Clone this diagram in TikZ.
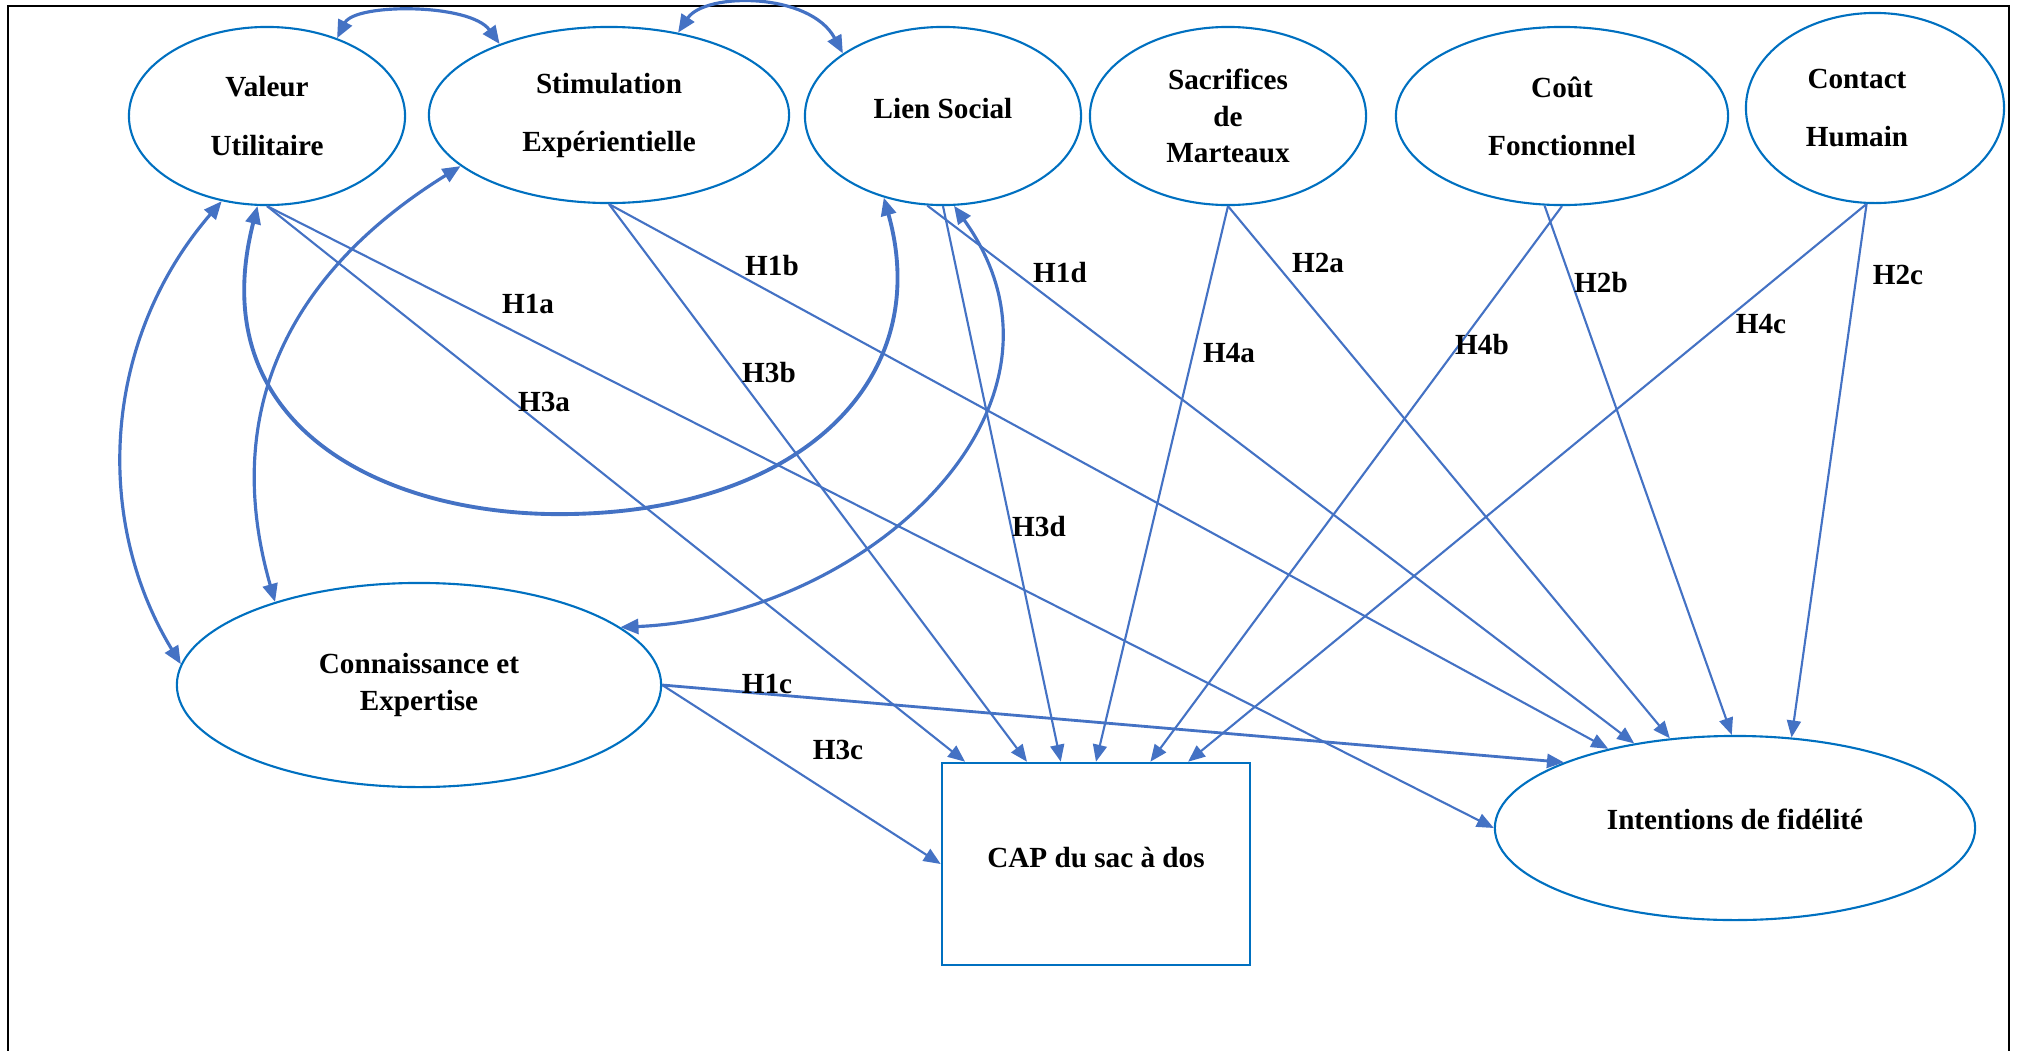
\documentclass[tikz,border=0pt]{standalone}
\usepackage{fontspec}
\setmainfont{Liberation Serif}
\usetikzlibrary{arrows.meta, shapes.geometric}
\definecolor{ovalblue}{HTML}{0070C0}
\definecolor{arrowblue}{HTML}{4472C4}

\begin{document}
\begin{tikzpicture}[x=0.01cm, y=-0.01cm, font=\fontsize{8.3}{10.3}\selectfont\bfseries,
  latent/.style={ellipse, draw=ovalblue, line width=0.6pt, inner sep=0pt, align=center},
  observed/.style={rectangle, draw=ovalblue, line width=0.7pt, inner sep=0pt, align=center},
  hyp/.style={draw=arrowblue, line width=0.6pt, -{Triangle[length=1.7mm, width=1.4mm]}},
  cov/.style={draw=arrowblue, line width=0.9pt, {Triangle[length=1.8mm, width=1.5mm]}-{Triangle[length=1.8mm, width=1.5mm]}},
  lbl/.style={inner sep=0pt}]

\useasboundingbox (0,0) rectangle (2020,1051);

% frame
\draw[line width=0.7pt] (8,1051) |- (2009,6) -- (2009,1051);

% constructs
\node[latent, minimum width=2.76cm, minimum height=1.78cm] (val) at (267,116) {Valeur\\[6.2pt]Utilitaire};
\node[latent, minimum width=3.6cm, minimum height=1.76cm] (sti) at (609,115) {Stimulation\\[6.2pt]Expérientielle};
\node[latent, minimum width=2.76cm, minimum height=1.78cm, text depth=4.6pt] (lie) at (943,116) {Lien Social};
\node[latent, minimum width=2.76cm, minimum height=1.78cm] (sac) at (1228,116) {Sacrifices\\de\\Marteaux};
\node[latent, minimum width=3.32cm, minimum height=1.78cm] (cou) at (1562,116) {Coût\\[6.2pt]Fonctionnel};
\node[latent, minimum width=2.58cm, minimum height=1.9cm] (hum) at (1875,108) {Contact\kern0.36cm\\[6.2pt]Humain\kern0.36cm};
\node[latent, minimum width=4.84cm, minimum height=2.04cm] (kno) at (419,685) {Connaissance et\\Expertise};
\node[observed, minimum width=3.08cm, minimum height=2.02cm, text depth=3.6pt] (cap) at (1096,864) {CAP du sac à dos};
\node[latent, minimum width=4.8cm, minimum height=1.84cm, text depth=5.2pt] (int) at (1735,828) {Intentions de fidélité};

% hypotheses
\draw[hyp] (val.south) -- (int.west);
\draw[hyp] (val.south) -- (cap.142);
\draw[hyp] (sti.south) -- (int.148);
\draw[hyp] (sti.south) -- (cap.124);
\draw[hyp] (lie.-100) -- (int.140);
\draw[hyp] (lie.south) -- (cap.109);
\draw[hyp] (sac.south) -- (int.126);
\draw[hyp] (sac.south) -- (cap.north);
\draw[hyp] (cou.-101) -- (int.92);
\draw[hyp] (cou.south) -- (cap.62);
\draw[hyp] (hum.-95) -- (int.58);
\draw[hyp] (hum.-95) -- (cap.48);
\draw[hyp, line width=0.8pt] (kno.east) -- (int.159);
\draw[hyp] (kno.east) -- (cap.west);

% correlations
\draw[cov] (val.48) .. controls (355,3) and (470,3) .. (sti.147);
\draw[cov] (sti.50) .. controls (705,-8) and (810,-8) .. (lie.148);
\draw[cov] (val.-118) .. controls (102,340) and (93,520) .. (kno.175);
\draw[cov] (sti.-161) .. controls (290,272) and (220,410) .. (kno.150);
\draw[cov, line width=1.1pt] (val.-96) .. controls (200,430) and (390,518) .. (571,514)
  .. controls (800,510) and (935,380) .. (lie.-126);
\draw[cov] (lie.-83) .. controls (1098,407) and (864,617) .. (kno.16);

% labels
\path
(528,304) node[lbl] (h1a) {H1a}
(544,402) node[lbl] (h3a) {H3a}
(772,266) node[lbl] (h1b) {H1b}
(769,373) node[lbl] (h3b) {H3b}
(1060,273) node[lbl] (h1d) {H1d}
(1039,527) node[lbl] (h3d) {H3d}
(767,684) node[lbl] (h1c) {H1c}
(838,750) node[lbl] (h3c) {H3c}
(1229,353) node[lbl] (h4a) {H4a}
(1318,263) node[lbl] (h2a) {H2a}
(1482,345) node[lbl] (h4b) {H4b}
(1601,283) node[lbl] (h2b) {H2b}
(1761,324) node[lbl] (h4c) {H4c}
(1898,275) node[lbl] (h2c) {H2c}
;

\end{tikzpicture}
\end{document}
